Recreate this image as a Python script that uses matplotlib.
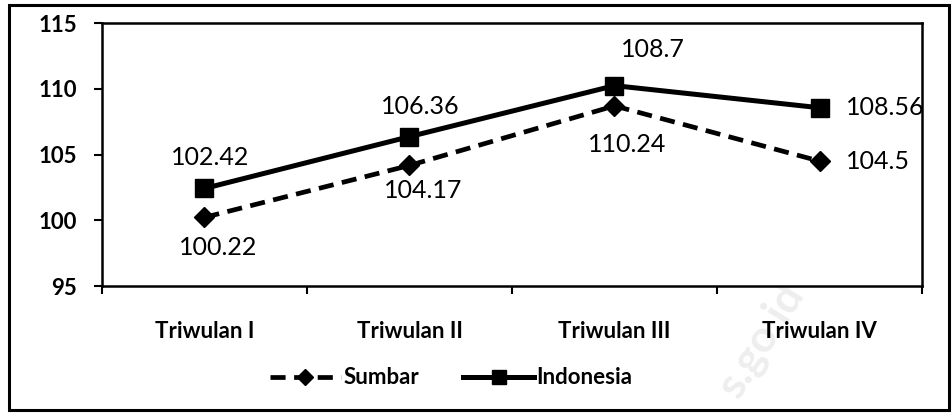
import matplotlib
matplotlib.use('Agg')
import matplotlib.pyplot as plt
from matplotlib.patches import Rectangle

# data
categories = ['Triwulan I', 'Triwulan II', 'Triwulan III', 'Triwulan IV']
sumbar = [100.22, 104.17, 108.7, 104.5]
indonesia = [102.42, 106.36, 110.24, 108.56]
# labels as printed in the chart (Triwulan III labels appear swapped)
indonesia_labels = ['102.42', '106.36', '108.7', '108.56']
sumbar_labels = ['100.22', '104.17', '110.24', '104.5']
yticks = [95, 100, 105, 110, 115]

plt.rcParams['font.family'] = ['Lato', 'DejaVu Sans']

fig = plt.figure(figsize=(9.52, 4.19), dpi=100)
ax = fig.add_axes([0.1071, 0.3174, 0.8614, 0.6276])

x = list(range(len(categories)))
ax.plot(x, sumbar, color='black', lw=3.4, ls=(0, (3.2, 1.8)), marker='D',
        markersize=10, label='Sumbar', zorder=3)
ax.plot(x, indonesia, color='black', lw=3.6, marker='s',
        markersize=13, label='Indonesia', zorder=4)

# data labels
top_off = [(4, 22), (8, 22), (28, 26), (19, 0)]
bot_off = [(10, -22), (10, -18), (9, -28), (19, 0)]
for i in x:
    dx, dy = top_off[i]
    ha = 'left' if i == 3 else 'center'
    ax.annotate(indonesia_labels[i], (i, indonesia[i]), xytext=(dx, dy),
                textcoords='offset points', ha=ha, va='center', fontsize=18)
    dx, dy = bot_off[i]
    ax.annotate(sumbar_labels[i], (i, sumbar[i]), xytext=(dx, dy),
                textcoords='offset points', ha=ha, va='center', fontsize=18)

ax.set_xlim(-0.5, 3.5)
ax.set_ylim(95, 115)
ax.set_yticks(yticks)
ax.set_yticklabels([str(v) for v in yticks], fontsize=16, fontweight='bold')
ax.set_xticks(x)
ax.set_xticklabels(categories, fontsize=16, fontweight='bold')
ax.set_xticks([-0.5, 0.5, 1.5, 2.5, 3.5], minor=True)
ax.tick_params(axis='x', which='major', length=0, pad=25)
ax.tick_params(axis='x', which='minor', length=6, width=1.5, direction='out')
ax.tick_params(axis='y', length=6, width=1.5, direction='out', pad=12)
for s in ax.spines.values():
    s.set_linewidth(1.8)
    s.set_color('black')

leg = fig.legend(loc='center', bbox_to_anchor=(0.474, 0.098), ncol=2, frameon=False,
                 prop={'size': 16, 'weight': 'bold'}, handlelength=3.2,
                 handletextpad=0.1, columnspacing=2.0, markerscale=0.8)

# outer frame
fig.patches.append(Rectangle((0.009, 0.022), 0.988, 0.966, transform=fig.transFigure,
                             fill=False, lw=2.2, edgecolor='black'))

# faint watermark
fig.text(0.80, 0.19, 's.go.id', rotation=58, fontsize=32, fontweight='bold',
         color='#eeeeee', ha='center', va='center', zorder=-1)

fig.savefig('out.png', dpi=100)
